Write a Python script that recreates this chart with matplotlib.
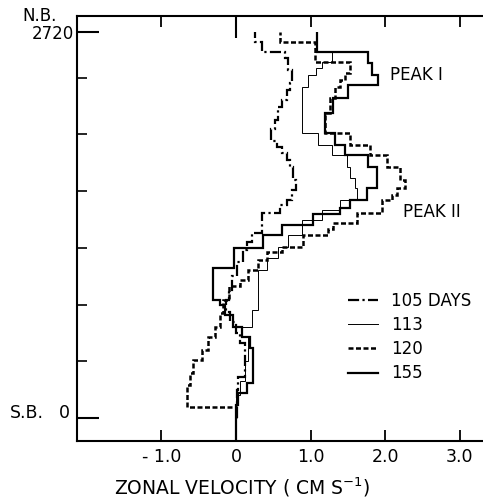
import numpy as np
import matplotlib
matplotlib.use("Agg")
import matplotlib.pyplot as plt

# depth edges (m above S.B., top -> bottom) and zonal velocity (cm/s) per layer
depth_105 = [2720, 2650, 2580, 2540, 2453, 2362, 2312, 2242, 2193, 2100, 2040,
             1950, 1910, 1870, 1820, 1770, 1680, 1607, 1537, 1500, 1445, 1304,
             1240, 1184, 1100, 1000, 900, 830, 750, 680, 600, 530, 290, 200, 0]
vel_105 = [0.26, 0.35, 0.66, 0.70, 0.75, 0.72, 0.68, 0.62, 0.56, 0.52, 0.47,
           0.55, 0.62, 0.68, 0.72, 0.77, 0.80, 0.75, 0.68, 0.59, 0.35, 0.21,
           0.15, 0.10, 0.02, -0.05, -0.10, -0.13, -0.08, 0.0, 0.05, 0.12, 0.03, 0.01]

depth_113 = [2720, 2580, 2510, 2468, 2420, 2330, 2009, 1925, 1854, 1770, 1692,
             1622, 1537, 1466, 1396, 1290, 1206, 1128, 1043, 761, 642, 571, 400,
             260, 160, 0]
vel_113 = [1.09, 1.29, 1.16, 1.08, 0.96, 0.89, 1.10, 1.29, 1.49, 1.53, 1.60,
           1.62, 1.40, 1.15, 0.89, 0.70, 0.56, 0.42, 0.29, 0.21, 0.08, 0.16,
           0.12, 0.05, 0.0]

depth_120 = [2720, 2650, 2510, 2430, 2380, 2330, 2255, 2150, 2010, 1925, 1855,
             1770, 1680, 1620, 1570, 1537, 1445, 1375, 1330, 1290, 1206, 1170,
             1114, 1043, 973, 930, 832, 740, 640, 570, 480, 410, 318, 233, 78, 0]
vel_120 = [0.59, 1.06, 1.53, 1.46, 1.40, 1.33, 1.26, 1.20, 1.53, 1.80, 2.03,
           2.20, 2.27, 2.16, 2.10, 1.96, 1.62, 1.30, 1.23, 0.90, 0.62, 0.42,
           0.30, 0.16, 0.05, -0.09, -0.17, -0.21, -0.28, -0.38, -0.46, -0.58,
           -0.62, -0.66, 0.0]

depth_155 = [2720, 2580, 2500, 2420, 2350, 2255, 2150, 2010, 1925, 1855, 1770,
             1620, 1535, 1480, 1440, 1360, 1290, 1200, 1057, 830, 795, 725, 640,
             570, 495, 245, 175, 90, -160]
vel_155 = [1.09, 1.77, 1.83, 1.91, 1.50, 1.30, 1.19, 1.33, 1.46, 1.77, 1.89,
           1.76, 1.53, 1.40, 1.03, 0.62, 0.36, -0.03, -0.31, -0.21, -0.15,
           -0.04, 0.08, 0.19, 0.23, 0.15, 0.03, 0.0]

x_ticks = [-1, 0, 1, 2, 3]
x_ticklabels = ["- 1.0", "0", "1.0", "2.0", "3.0"]
y_ticks = [400, 800, 1200, 1600, 2000, 2400]
y_ends = [0, 2720]

plt.rcParams['font.family'] = ['DejaVu Sans']
fig = plt.figure(figsize=(4.83, 5.0), dpi=100)
ax = fig.add_axes([77 / 483, 1 - 441 / 500, 1 - 77 / 483, (441 - 16) / 500])

series = [
    (depth_105, vel_105, "105 DAYS", dict(lw=1.6, ls=(0, (5, 1.5, 1, 1.5)))),
    (depth_113, vel_113, "113", dict(lw=0.7, ls='-')),
    (depth_120, vel_120, "120", dict(lw=1.8, ls=(0, (2, 1)))),
    (depth_155, vel_155, "155", dict(lw=1.6, ls='-')),
]
handles = []
for d, v, lab, st in series:
    ax.stairs(v[::-1], d[::-1], orientation='horizontal', baseline=None,
              color='black', **st)
    h, = ax.plot([], [], color='black', label=lab, **st)
    handles.append(h)

ax.set_xlim(-2.134, 3.315)
ax.set_ylim(-162, 2834)

for s in ['left', 'top', 'bottom']:
    ax.spines[s].set_linewidth(1.5)
ax.spines['right'].set_visible(False)

ax.set_xticks(x_ticks, labels=x_ticklabels, fontsize=12.5)
ax.tick_params(axis='x', which='major', direction='in', top=True, bottom=True,
               length=8, width=1.3, pad=5)
ax.xaxis.remove_overlapping_locs = False
ax.set_xticks([0], minor=True)
ax.tick_params(axis='x', which='minor', direction='in', top=True, bottom=False,
               length=16, width=1.5)

ax.set_yticks(y_ticks, labels=[])
ax.tick_params(axis='y', which='major', direction='in', length=7, width=1.2)
ax.set_yticks(y_ends, minor=True)
ax.set_yticklabels([], minor=True)
ax.tick_params(axis='y', which='minor', direction='in', length=16, width=1.5)

# labels
fig.text(22 / 483, 1 - 16 / 500, "N.B.", fontsize=12, ha='left', va='center')
fig.text(74 / 483, 1 - 34 / 500, "2720", fontsize=12, ha='right', va='center')
fig.text(10 / 483, 1 - 413 / 500, "S.B.", fontsize=12.5, ha='left', va='center')
fig.text(70 / 483, 1 - 413 / 500, "0", fontsize=12.5, ha='right', va='center')
ax.text(2.07, 2418, "PEAK I", fontsize=12, ha='left', va='center')
ax.text(2.24, 1452, "PEAK II", fontsize=12, ha='left', va='center')
fig.text(242 / 483, 1 - 487 / 500, "ZONAL VELOCITY ( CM S$^{-1}$)",
         fontsize=13.5, ha='center', va='center')

ax.legend(handles=handles, loc='center left', frameon=False,
          bbox_to_anchor=((348 - 77) / 406, 1 - (337 - 16) / 425),
          fontsize=12, handlelength=1.8, handletextpad=0.8,
          labelspacing=0.38, borderpad=0, borderaxespad=0)

fig.savefig("out.png", dpi=100)
